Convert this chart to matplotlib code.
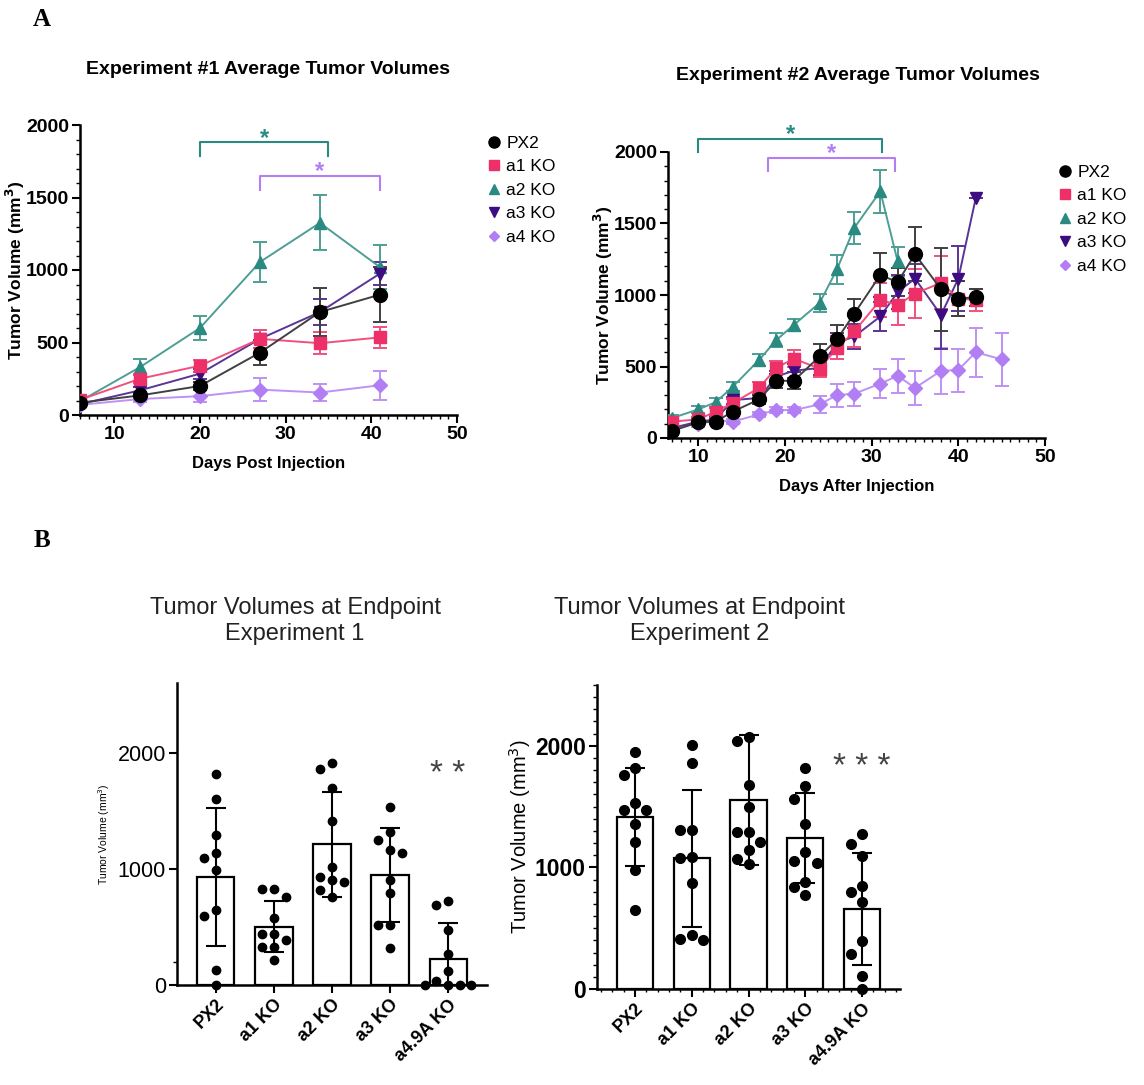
import matplotlib
matplotlib.use("Agg")
import matplotlib.pyplot as plt
from matplotlib.lines import Line2D
from matplotlib.ticker import MultipleLocator
import numpy as np

W, H = 1144, 1085

# --- experiment 1 growth curves (mean +/- sem) ---
days1 = [6, 13, 20, 27, 34, 41]
px2_1 = [85, 135, 200, 430, 710, 830]
px2_1_err = [20, 25, 30, 85, 165, 190]
a1_1 = [105, 250, 340, 525, 495, 535]
a1_1_err = [20, 30, 40, 60, 75, 70]
a2_1 = [95, 330, 600, 1055, 1325, 1020]
a2_1_err = [20, 55, 85, 140, 190, 150]
a3_1 = [75, 170, 285, 525, 710, 975]
a3_1_err = [15, 25, 35, 60, 90, 80]
a4_1 = [70, 110, 130, 175, 155, 205]
a4_1_err = [15, 20, 40, 80, 60, 100]

# --- experiment 2 growth curves ---
days2 = [7, 10, 12, 14, 17, 19, 21, 24, 26, 28, 31, 33, 35, 38, 40, 42]
days2_a2 = [7, 10, 12, 14, 17, 19, 21, 24, 26, 28, 31, 33]
days2_a4 = [7, 10, 12, 14, 17, 19, 21, 24, 26, 28, 31, 33, 35, 38, 40, 42, 45]
px2_2 = [50, 110, 115, 185, 270, 400, 400, 570, 690, 870, 1140, 1090, 1285, 1040, 975, 985]
px2_2_err = [15, 20, 20, 25, 30, 50, 60, 85, 100, 100, 155, 100, 190, 290, 120, 60]
a1_2 = [115, 130, 185, 245, 350, 490, 555, 485, 630, 745, 965, 930, 1010, 1085, 975, 965]
a1_2_err = [20, 20, 25, 30, 40, 50, 60, 60, 80, 110, 120, 140, 170, 185, 120, 80]
a2_2 = [140, 200, 250, 360, 545, 685, 790, 945, 1180, 1470, 1725, 1235]
a2_2_err = [20, 25, 30, 30, 40, 50, 40, 65, 100, 110, 150, 100]
a3_2 = [70, 115, 130, 265, 280, 430, 470, 490, 665, 710, 850, 1020, 1115, 860, 1115, 1675]
a3_2_err = [10, 15, 20, 25, 30, 40, 50, 50, 70, 90, 100, 120, 100, 240, 230, 0]
a4_2 = [80, 95, 125, 115, 165, 195, 195, 235, 300, 310, 380, 435, 350, 470, 475, 600, 550]
a4_2_err = [10, 15, 15, 15, 20, 20, 20, 60, 80, 85, 100, 120, 120, 160, 150, 170, 185]

series_names = ["PX2", "a1 KO", "a2 KO", "a3 KO", "a4 KO"]

# significance brackets: (start day, end day, height, colour key)
brackets1 = [(20, 35, 1880, "a2"), (27, 41, 1650, "a4")]
brackets2 = [(10, 31.2, 2093, "a2"), (18, 32.7, 1960, "a4")]

# --- endpoint volumes ---
groups = ["PX2", "a1 KO", "a2 KO", "a3 KO", "a4.9A KO"]
end1_mean = [930, 500, 1210, 945, 220]
end1_sd = [595, 220, 455, 405, 315]
end1_pts = [
    [1820, 1600, 1290, 1135, 1090, 990, 645, 595, 130, 0],
    [830, 830, 760, 575, 440, 390, 440, 330, 330, 215],
    [1915, 1860, 1700, 1415, 1020, 930, 900, 885, 820, 760],
    [1530, 1315, 1245, 1165, 1140, 905, 795, 515, 515, 315],
    [725, 690, 475, 265, 120, 35, 0, 0, 0, 0],
]
end2_mean = [1415, 1075, 1555, 1240, 660]
end2_sd = [400, 565, 535, 370, 460]
end2_pts = [
    [1950, 1820, 1760, 1530, 1475, 1475, 1360, 1205, 980, 650],
    [2005, 1860, 1305, 1305, 1075, 1085, 875, 445, 400, 415],
    [2075, 2040, 1675, 1495, 1290, 1290, 1210, 1140, 1070, 1030],
    [1815, 1670, 1565, 1360, 1125, 1050, 1040, 880, 835, 770],
    [1275, 1195, 1095, 845, 795, 715, 395, 290, 110, 0],
]

# colours
mk_col = {"PX2": "black", "a1": "#EE3068", "a2": "#2A8A82", "a3": "#3C0C80", "a4": "#B27EF4"}
ln_col = {"PX2": "#404040", "a1": "#F0507E", "a2": "#4E9E96", "a3": "#5A3496", "a4": "#BE92F4"}
markers = {"PX2": "o", "a1": "s", "a2": "^", "a3": "v", "a4": "D"}
msizes = {"PX2": 10, "a1": 9, "a2": 9, "a3": 9, "a4": 7}

plt.rcParams["font.family"] = ["Liberation Sans", "DejaVu Sans"]


def rect(x0, yt, x1, yb):
    return [x0 / W, 1 - yb / H, (x1 - x0) / W, (yb - yt) / H]


def style_axes(ax, labelsize):
    for s in ["top", "right"]:
        ax.spines[s].set_visible(False)
    for s in ["left", "bottom"]:
        ax.spines[s].set_linewidth(1.8)
    ax.tick_params(which="major", length=6, width=1.5, direction="out", pad=2,
                   labelsize=labelsize)
    ax.tick_params(which="minor", length=3, width=1.0, direction="out")


def swarm(vals, center, dx, dy):
    # simple deterministic beeswarm offsets
    xs = [0.0] * len(vals)
    placed = []
    order = sorted(range(len(vals)), key=lambda i: -vals[i])
    for i in order:
        v = vals[i]
        x = center
        for k in [0, -1, 1, -2, 2, -3, 3]:
            x = center + k * dx
            if all(((x - px) / dx) ** 2 + ((v - pv) / dy) ** 2 >= 0.95 for px, pv in placed):
                break
        placed.append((x, v))
        xs[i] = x
    return xs


fig = plt.figure(figsize=(W / 100, H / 100), dpi=100)

# ---------------- panel A ----------------
def growth(ax, data, brackets, xlabel, title_xy, title, legend_xy):
    order = ["a4", "a2", "a3", "a1", "PX2"]
    for key in order:
        d, v, e = data[key]
        ax.errorbar(d, v, yerr=e, color=ln_col[key], ecolor=ln_col[key], lw=1.4,
                    elinewidth=1.4, capsize=5, capthick=1.4, marker=markers[key],
                    ms=msizes[key], mfc=mk_col[key], mec=mk_col[key], zorder=3)
    for x0, x1, y, key in brackets:
        c = mk_col[key]
        ax.plot([x0, x0, x1, x1], [y - 95, y, y, y - 95], color=c, lw=1.5, clip_on=False)
        ax.text((x0 + x1) / 2, y - 15, "*", color=c, ha="center", va="baseline",
                fontsize=17, fontweight="bold", clip_on=False)
    ax.set_xlim(data["xmin"], 50)
    ax.set_ylim(0, 2000)
    ax.xaxis.set_major_locator(MultipleLocator(10))
    ax.xaxis.set_minor_locator(MultipleLocator(1))
    ax.yaxis.set_major_locator(MultipleLocator(500))
    ax.yaxis.set_minor_locator(MultipleLocator(100))
    style_axes(ax, 14)
    for lab in ax.get_xticklabels() + ax.get_yticklabels():
        lab.set_fontweight("bold")
    ax.set_xlabel(xlabel, fontsize=12, fontweight="bold", labelpad=9)
    ax.set_ylabel("Tumor Volume (mm$^\\mathbf{3}$)", fontsize=12.5, fontweight="bold")
    ax.yaxis.set_label_coords(-0.14, 0.5)
    fig.text(title_xy[0] / W, 1 - title_xy[1] / H, title, ha="center", va="center",
             fontsize=14, fontweight="bold")
    handles = [Line2D([], [], ls="none", marker=markers[k], ms=msizes[k] * 0.8,
                      mfc=mk_col[k], mec=mk_col[k]) for k in ["PX2", "a1", "a2", "a3", "a4"]]
    fig.legend(handles, series_names, loc="upper left",
               bbox_to_anchor=(legend_xy[0] / W, 1 - legend_xy[1] / H),
               frameon=False, fontsize=12.5, labelspacing=0.48, handletextpad=0.1,
               handlelength=1.2, borderpad=0)


ax1 = fig.add_axes(rect(80, 125, 457, 415))
growth(ax1, {"PX2": (days1, px2_1, px2_1_err), "a1": (days1, a1_1, a1_1_err),
             "a2": (days1, a2_1, a2_1_err), "a3": (days1, a3_1, a3_1_err),
             "a4": (days1, a4_1, a4_1_err), "xmin": 6},
       brackets1, "Days Post Injection", (268, 70), "Experiment #1 Average Tumor Volumes",
       (475, 127))

ax2 = fig.add_axes(rect(668, 152, 1045, 438))
growth(ax2, {"PX2": (days2, px2_2, px2_2_err), "a1": (days2, a1_2, a1_2_err),
             "a2": (days2_a2, a2_2, a2_2_err), "a3": (days2, a3_2, a3_2_err),
             "a4": (days2_a4, a4_2, a4_2_err), "xmin": 6.5},
       brackets2, "Days After Injection", (858, 75), "Experiment #2 Average Tumor Volumes",
       (1046, 156))

# ---------------- panel B ----------------
def endpoint(ax, means, sds, pts, ymax, ms, stars, star_y, bold_ticks):
    x = np.arange(len(groups))
    ax.bar(x, means, width=0.64, facecolor="white", edgecolor="black", linewidth=1.6, zorder=1)
    dy = ymax / 300 * 13
    for i, vals in enumerate(pts):
        xs = swarm(vals, i, 0.2, dy)
        ax.plot(xs, vals, ls="none", marker="o", ms=ms, color="black", zorder=3, clip_on=False)
    ax.errorbar(x, means, yerr=sds, fmt="none", ecolor="black", elinewidth=1.5,
                capsize=7, capthick=1.5, zorder=4)
    ax.text(4, star_y, stars, ha="center", va="center", fontsize=24, color="#444444")
    ax.set_xlim(-0.67, 4.67)
    ax.set_ylim(0, ymax)
    ax.set_xticks(x)
    ax.set_xticklabels(groups, rotation=45, ha="right", rotation_mode="anchor",
                       fontsize=13, fontweight="bold")
    ax.set_yticks([0, 1000, 2000])
    if bold_ticks:
        style_axes(ax, 16.5)
        ax.yaxis.set_minor_locator(MultipleLocator(100))
        ax.xaxis.set_minor_locator(MultipleLocator(0.2))
        ax.tick_params(axis="x", which="minor", length=2)
        ax.tick_params(axis="x", which="major", labelsize=13)
        for lab in ax.get_yticklabels():
            lab.set_fontweight("bold")
        ax.set_ylabel("Tumor Volume (mm$^3$)", fontsize=14.5)
        ax.yaxis.set_label_coords(-0.21, 0.5)
    else:
        style_axes(ax, 15.5)
        ax.tick_params(axis="x", which="major", labelsize=13)
        ax.set_yticks([200], minor=True)
        ax.set_ylabel("Tumor Volume (mm$^3$)", fontsize=7.5)
        ax.yaxis.set_label_coords(-0.21, 0.5)


ax3 = fig.add_axes(rect(177, 683, 487, 985))
endpoint(ax3, end1_mean, end1_sd, end1_pts, 2600, 6, "* *", 1810, False)
ax4 = fig.add_axes(rect(597, 685, 900, 989))
endpoint(ax4, end2_mean, end2_sd, end2_pts, 2500, 7, "* * *", 1820, True)

fig.text(295 / W, 1 - 621 / H, "Tumor Volumes at Endpoint\nExperiment 1", ha="center",
         va="center", fontsize=17, color="#222222")
fig.text(700 / W, 1 - 621 / H, "Tumor Volumes at Endpoint\nExperiment 2", ha="center",
         va="center", fontsize=17, color="#222222")

fig.text(42 / W, 1 - 20 / H, "A", ha="center", va="center", fontsize=18, fontweight="bold",
         family="Liberation Serif")
fig.text(42 / W, 1 - 540 / H, "B", ha="center", va="center", fontsize=18, fontweight="bold",
         family="Liberation Serif")

fig.savefig("out.png", dpi=100)
